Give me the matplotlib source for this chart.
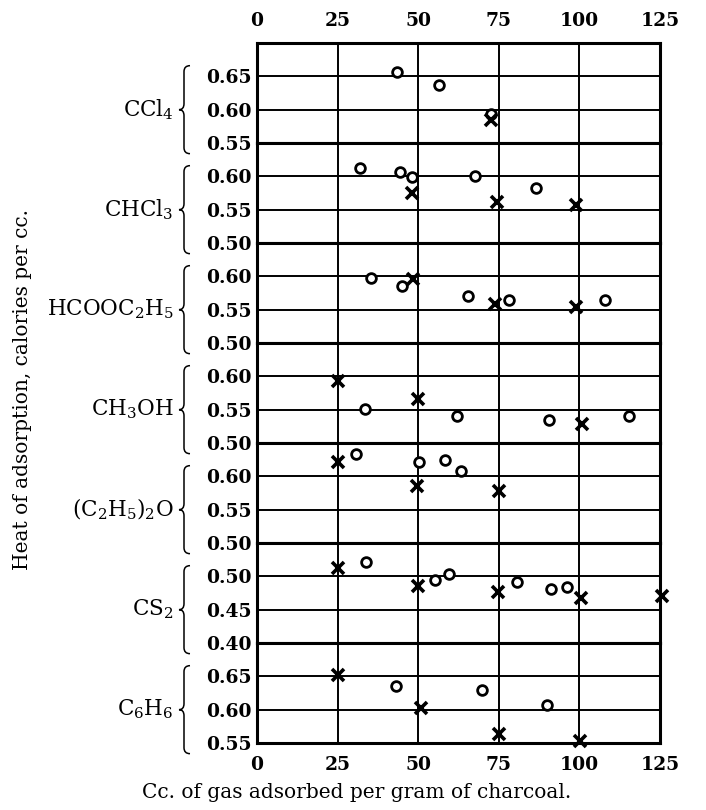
import matplotlib
matplotlib.use("Agg")
import matplotlib.pyplot as plt
from matplotlib.path import Path
import matplotlib.patches as patches

plt.rcParams['font.family'] = ['DejaVu Serif']
plt.rcParams['mathtext.fontset'] = 'dejavuserif'

# --- data ---
compounds = ['CCl$_4$', 'CHCl$_3$', 'HCOOC$_2$H$_5$', 'CH$_3$OH',
             '(C$_2$H$_5$)$_2$O', 'CS$_2$', 'C$_6$H$_6$']
panel_bottoms = [0.55, 0.50, 0.50, 0.50, 0.50, 0.40, 0.55]
x_ticks = [0, 25, 50, 75, 100, 125]

ccl4_o_x = [43.3, 56.3, 72.5]
ccl4_o_y = [0.656, 0.637, 0.594]
ccl4_x_x = [72.5]
ccl4_x_y = [0.584]

chcl3_o_x = [32.1, 44.3, 48.1, 67.6, 86.5]
chcl3_o_y = [0.612, 0.607, 0.599, 0.601, 0.5825]
chcl3_x_x = [48.1, 74.5, 99.0]
chcl3_x_y = [0.575, 0.5615, 0.5565]

formate_o_x = [35.5, 45.0, 65.6, 78.2, 107.9]
formate_o_y = [0.598, 0.585, 0.5705, 0.564, 0.564]
formate_x_x = [48.3, 73.8, 99.0]
formate_x_y = [0.596, 0.559, 0.554]

methanol_o_x = [33.4, 62.0, 90.7, 115.3]
methanol_o_y = [0.551, 0.540, 0.534, 0.540]
methanol_x_x = [25.0, 50.0, 100.7]
methanol_x_y = [0.593, 0.566, 0.529]

ether_o_x = [30.6, 50.2, 58.4, 63.2]
ether_o_y = [0.633, 0.622, 0.6245, 0.608]
ether_x_x = [25.0, 49.5, 75.2]
ether_x_y = [0.621, 0.585, 0.578]

cs2_o_x = [33.7, 55.2, 59.5, 80.7, 91.1, 96.0]
cs2_o_y = [0.521, 0.495, 0.503, 0.492, 0.481, 0.4845]
cs2_x_x = [25.0, 50.0, 74.7, 100.6, 125.5]
cs2_x_y = [0.513, 0.486, 0.476, 0.468, 0.471]

benzene_o_x = [43.0, 69.7, 90.0]
benzene_o_y = [0.635, 0.630, 0.607]
benzene_x_x = [25.0, 50.8, 75.2, 100.2]
benzene_x_y = [0.6516, 0.6027, 0.563, 0.5526]

circles = [(ccl4_o_x, ccl4_o_y), (chcl3_o_x, chcl3_o_y), (formate_o_x, formate_o_y),
           (methanol_o_x, methanol_o_y), (ether_o_x, ether_o_y), (cs2_o_x, cs2_o_y),
           (benzene_o_x, benzene_o_y)]
crosses = [(ccl4_x_x, ccl4_x_y), (chcl3_x_x, chcl3_x_y), (formate_x_x, formate_x_y),
           (methanol_x_x, methanol_x_y), (ether_x_x, ether_x_y), (cs2_x_x, cs2_x_y),
           (benzene_x_x, benzene_x_y)]

W, H = 706, 810
fig, axes = plt.subplots(7, 1, figsize=(W / 100, H / 100), dpi=100, sharex=True)
fig.subplots_adjust(left=257 / W, right=660 / W, top=1 - 43 / H, bottom=1 - 743 / H, hspace=0)


def draw_brace(y_mid, half, xl=179, xm=184, xr=190, r=6):
    # curly brace in figure pixels, tip pointing left
    yt, yb = y_mid + half, y_mid - half
    verts = [(xr, yt), (xm, yt), (xm, yt - r),
             (xm, y_mid + r), (xm, y_mid), (xl, y_mid),
             (xm, y_mid), (xm, y_mid - r),
             (xm, yb + r), (xm, yb), (xr, yb)]
    codes = [Path.MOVETO, Path.CURVE3, Path.CURVE3,
             Path.LINETO, Path.CURVE3, Path.CURVE3,
             Path.CURVE3, Path.CURVE3,
             Path.LINETO, Path.CURVE3, Path.CURVE3]
    verts = [(vx / W, vy / H) for vx, vy in verts]
    fig.patches.append(patches.PathPatch(Path(verts, codes), transform=fig.transFigure,
                                         facecolor='none', edgecolor='black', lw=1.1))


for i, ax in enumerate(axes):
    lo = panel_bottoms[i]
    ax.set_xlim(0, 125)
    ax.set_ylim(lo, lo + 0.15)
    ax.set_xticks(x_ticks)
    ticks = [lo, lo + 0.05, lo + 0.10]
    ax.set_yticks(ticks)
    ax.set_yticklabels(['%.2f' % t for t in ticks])
    ax.grid(True, color='black', lw=1.4)
    ax.set_axisbelow(True)
    for sp in ax.spines.values():
        sp.set_linewidth(2.2)
    ax.tick_params(axis='y', length=0, pad=4, labelsize=13.5)
    for lab in ax.get_yticklabels():
        lab.set_fontweight('bold')
    ax.tick_params(axis='x', length=0, pad=9, labelsize=13.5,
                   labeltop=(i == 0), labelbottom=(i == 6), top=False, bottom=False)
    for lab in ax.get_xticklabels():
        lab.set_fontweight('bold')

    cx, cy = circles[i]
    ax.plot(cx, cy, 'o', ms=7, mew=2.0, mec='black', mfc='white', ls='none',
            clip_on=False, zorder=5)
    xx, xy = crosses[i]
    ax.plot(xx, xy, 'x', ms=8, mew=2.6, color='black', ls='none',
            clip_on=False, zorder=6)

    ax.text(-0.207, lo + 0.05, compounds[i], transform=ax.get_yaxis_transform(),
            ha='right', va='center', fontsize=15.5)

    fig.canvas.draw()
    y_mid = ax.transData.transform((0, lo + 0.05))[1]
    draw_brace(y_mid, 44)

fig.text(23 / W, 1 - 390 / H, 'Heat of adsorption, calories per cc.', rotation=90,
         ha='center', va='center', fontsize=14.5)
fig.text(357 / W, 1 - 793 / H, 'Cc. of gas adsorbed per gram of charcoal.',
         ha='center', va='center', fontsize=14.5)

fig.savefig('out.png', dpi=100)
